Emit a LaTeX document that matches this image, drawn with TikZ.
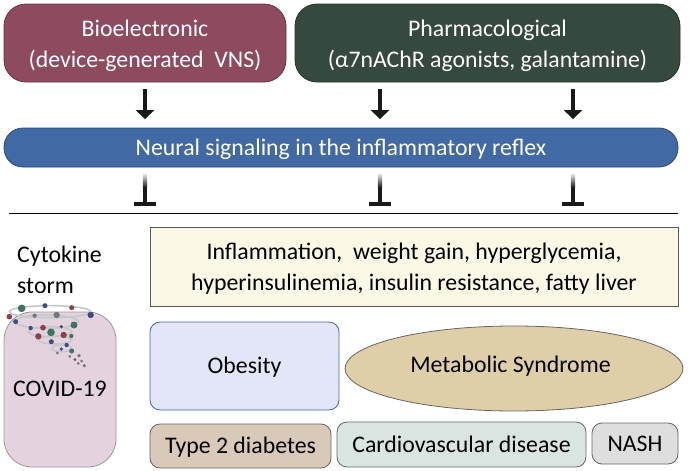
\documentclass[tikz,border=0pt]{standalone}
\usepackage{fontspec}
\setmainfont{Carlito}
\usetikzlibrary{shapes.geometric}
\usetikzlibrary{arrows.meta}
\definecolor{biored}{HTML}{8E4B60}
\definecolor{pharmgreen}{HTML}{36493E}
\definecolor{signalblue}{HTML}{4169A3}
\definecolor{inflamyellow}{HTML}{FBF9E6}
\definecolor{obesityblue}{HTML}{E3E5F8}
\definecolor{metsand}{HTML}{DFCFA9}
\definecolor{diabtan}{HTML}{D9C9B9}
\definecolor{cardiogreen}{HTML}{D8E5E0}
\definecolor{nashgray}{HTML}{DEDEDE}
\definecolor{covidpink}{HTML}{E4D3DF}
\definecolor{stormgreen}{HTML}{3F7464}
\definecolor{stormblue}{HTML}{3F4A80}
\definecolor{stormred}{HTML}{8C3F4C}
\definecolor{stormgray}{HTML}{6F7A78}
\definecolor{ringgray}{HTML}{C4C8C8}
\tikzset{
  textsize/.style={font=\fontsize{23.8}{31}\selectfont},
  box/.style={draw=#1!70!black,fill=#1,textsize,align=center,inner sep=0pt,line width=.8pt},
  oneline/.style={text height=16pt,text depth=1pt},
  twolines/.style={text height=51pt,text depth=3pt},
  activate/.style={-{Triangle[width=18pt,length=9pt]},line width=3.6pt,black!90,shorten <=7pt,shorten >=8.5pt},
  inhibit/.style={-{Bar[width=22pt,line width=4pt]},line width=4pt,black!90,shorten <=6pt,shorten >=7pt},
  ring/.style={draw=ringgray,line width=1.6pt}
}
\begin{document}
\begin{tikzpicture}[x=1pt,y=1pt]
\useasboundingbox (0,0) rectangle (689,-471);
% top row
\node[box=biored,text=white,twolines,rounded corners=22pt,minimum width=282pt,minimum height=78pt] (bio) at (145,-43) {Bioelectronic\\(device-generated~ VNS)};
\node[box=pharmgreen,text=white,twolines,rounded corners=22pt,minimum width=385pt,minimum height=78pt] (pharm) at (487.5,-43) {Pharmacological\\(α7nAChR agonists, galantamine)};
\node[box=signalblue,text=white,oneline,rounded corners=19pt,minimum width=674pt,minimum height=39pt] (signal) at (341,-147.5) {Neural signaling in the inflammatory reflex};
% arrows and bars
\coordinate (left) at (145,-213);
\coordinate (mid) at (380,-213);
\coordinate (right) at (573,-213);
\draw[activate] (left|-bio.south)--(left|-signal.north);
\draw[activate] (mid|-pharm.south)--(mid|-signal.north);
\draw[activate] (right|-pharm.south)--(right|-signal.north);
\foreach \c in {left,mid,right}{
  \draw[inhibit] (\c|-signal.south)--(\c);
  \shade[top color=white,bottom color=black!90] ([xshift=-2.1pt,yshift=-5pt]\c|-signal.south) rectangle ([xshift=2.1pt,yshift=-20pt]\c|-signal.south);
}
\coordinate (rulestart) at (9,-213);
\coordinate (ruleend) at (678,-213);
\draw[line width=1pt] (rulestart)--(ruleend);
% lower part
\node[textsize,align=left,anchor=west,inner sep=0pt] (storm) at (17,-270) {Cytokine\\storm};
\node[box=covidpink,rounded corners=28pt,minimum width=112pt,minimum height=155pt,text=black] (covid) at (60,-389.5) {};
\node[textsize,inner sep=0pt] (covidlabel) at (60,-389) {COVID-19};
\node[box=inflamyellow,draw=black!65,twolines,minimum width=528pt,minimum height=79pt,text=black] (inflam) at (414,-266.5) {Inflammation,~ weight gain, hyperglycemia,\\hyperinsulinemia, insulin resistance, fatty liver};
\node[box=obesityblue,draw=signalblue,oneline,rounded corners=10pt,minimum width=189pt,minimum height=88pt] (obesity) at (244.5,-366) {Obesity};
\node[box=metsand,draw=black!60,text height=12pt,text depth=5pt,shape=ellipse,minimum width=338pt,minimum height=85pt] (metabolic) at (514,-368.5) {\hspace*{-7pt}Metabolic Syndrome};
\node[box=diabtan,draw=black!60,oneline,rounded corners=10pt,minimum width=181pt,minimum height=44pt] (diabetes) at (240.5,-446) {Type 2 diabetes};
\node[box=cardiogreen,draw=black!60,oneline,rounded corners=10pt,minimum width=249pt,minimum height=45pt] (cardio) at (461.5,-444.5) {Cardiovascular disease};
\node[box=nashgray,draw=black!60,oneline,rounded corners=10pt,minimum width=86pt,minimum height=41pt] (nash) at (635,-443.5) {NASH};
% tornado
\begin{scope}[shift={(0,-290)},yscale=-1,scale=1/3]
\draw[ring] (150,65) ellipse (122 and 18);
\draw[ring] (140,95) ellipse (95 and 20);
\draw[ring] (150,125) ellipse (65 and 15);
\draw[ring] (165,150) ellipse (50 and 12);
\draw[ring] (185,175) ellipse (30 and 10);
\foreach \x/\y/\r/\c in {65/55/10/stormgreen,135/47/6/stormblue,215/53/6/stormred,272/75/8/stormblue,28/80/7/stormred,47/95/6/stormblue,104/77/5/stormgray,170/75/8/stormgray,222/105/9/stormgreen,92/114/5/stormblue,129/113/7/stormred,184/110/4/stormblue,153/127/10/stormgreen,115/139/8/stormred,191/135/8/stormred,214/138/5/stormgreen,154/155/6/stormblue,200/165/5/stormblue,184/177/4/stormblue,172/189/3/stormgray,215/183/6/stormgreen,209/199/3/stormgray,237/197/4/stormgray,225/209/3/stormred,245/213/3/stormgray,235/220/3/stormgray,253/227/4/stormgray}
  \fill[\c] (\x,\y) circle({\r+1.5});
\end{scope}
\end{tikzpicture}
\end{document}
